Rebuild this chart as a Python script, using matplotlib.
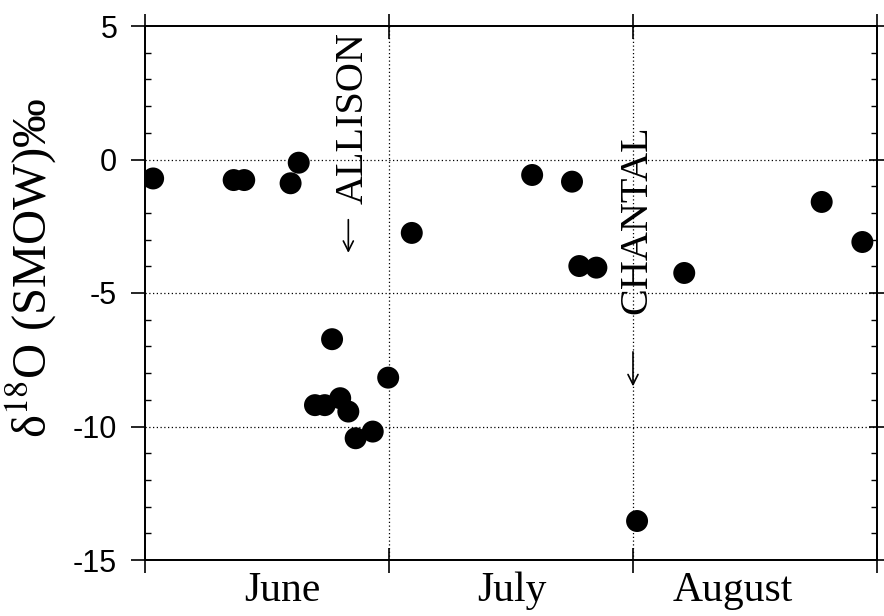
import matplotlib
matplotlib.use("Agg")
import matplotlib.pyplot as plt
from matplotlib.ticker import MultipleLocator, FixedLocator

plt.rcParams["mathtext.fontset"] = "stix"

# Days counted from 1 June (each month drawn as 30 units wide)
days = [1.0, 10.9, 12.2, 17.9, 18.9, 20.9, 22.1, 23.0, 24.0, 25.0, 25.9, 28.0, 29.9,
        32.8, 47.6, 52.5, 53.4, 55.5, 60.5, 66.3, 83.2, 88.2]
d18o = [-0.71, -0.77, -0.77, -0.89, -0.12, -9.2, -9.2, -6.73, -8.94, -9.44, -10.44, -10.19, -8.17,
        -2.75, -0.58, -0.83, -3.99, -4.05, -13.54, -4.25, -1.59, -3.09]

month_names = ["June", "July", "August"]
month_label_pos = [16.9, 45.1, 72.3]
month_bounds = [0, 30, 60, 90]
y_ticks = [5, 0, -5, -10, -15]
storms = ["ALLISON", "CHANTAL"]

fig = plt.figure(figsize=(8.84, 6.16), dpi=100)
ax = fig.add_axes([145/884, 56/616, (877-145)/884, (560-26)/616])

ax.scatter(days, d18o, s=250, color="black", edgecolors="none", zorder=3)

ax.set_xlim(0, 90)
ax.set_ylim(-15, 5)

# grid lines (dotted)
for y in [0, -5, -10]:
    ax.axhline(y, color="black", lw=0.9, ls=(0, (1, 2)), zorder=1)
for x in [30, 60]:
    ax.axvline(x, color="black", lw=0.9, ls=(0, (1, 2)), zorder=1)

for sp in ax.spines.values():
    sp.set_linewidth(1.3)

# y axis ticks (left)
ax.yaxis.set_major_locator(FixedLocator(y_ticks))
ax.yaxis.set_minor_locator(MultipleLocator(1))
ax.set_yticklabels([str(v) for v in y_ticks], fontfamily="Liberation Sans", fontsize=22)
ax.tick_params(axis="y", which="major", direction="out", length=10, width=1.2,
               left=True, right=False, pad=10)
ax.tick_params(axis="y", which="minor", direction="in", length=4.5, width=1.0,
               left=True, right=False)

# right side ticks
ax2 = ax.twinx()
ax2.set_ylim(-15, 5)
ax2.yaxis.set_major_locator(FixedLocator(y_ticks))
ax2.yaxis.set_minor_locator(MultipleLocator(1))
ax2.tick_params(axis="y", which="major", direction="inout", length=12, width=1.2,
                labelright=False)
ax2.tick_params(axis="y", which="minor", direction="in", length=4.5, width=1.0)
for sp in ax2.spines.values():
    sp.set_linewidth(1.3)

# x axis ticks: month boundaries with no labels, month names as minor labels
ax.xaxis.set_major_locator(FixedLocator(month_bounds))
ax.xaxis.set_minor_locator(FixedLocator(month_label_pos))
ax.set_xticklabels([""] * len(month_bounds))
ax.set_xticklabels(month_names, minor=True, fontfamily="Liberation Serif", fontsize=30)
ax.tick_params(axis="x", which="major", direction="inout", length=18, width=1.2,
               top=True, bottom=True)
ax.tick_params(axis="x", which="minor", length=0, pad=8)

ax.set_ylabel("δ$^{\\mathrm{18}}$O (SMOW)‰", fontfamily="Liberation Serif", fontsize=35)
ax.yaxis.set_label_coords(-0.118, 0.547)

# storm annotations
ax.text(25.6, 1.55, storms[0], rotation=90, ha="center", va="center",
        fontfamily="Liberation Serif", fontsize=29)
ax.annotate("", xy=(25.0, -3.6), xytext=(25.0, -2.15),
            arrowprops=dict(arrowstyle="->", color="black", lw=1.2,
                            mutation_scale=18))
ax.text(60.5, -2.27, storms[1], rotation=90, ha="center", va="center",
        fontfamily="Liberation Serif", fontsize=29)
ax.annotate("", xy=(60.0, -8.6), xytext=(60.0, -7.1),
            arrowprops=dict(arrowstyle="->", color="black", lw=1.2,
                            mutation_scale=18))

fig.savefig("out.png", dpi=100)
